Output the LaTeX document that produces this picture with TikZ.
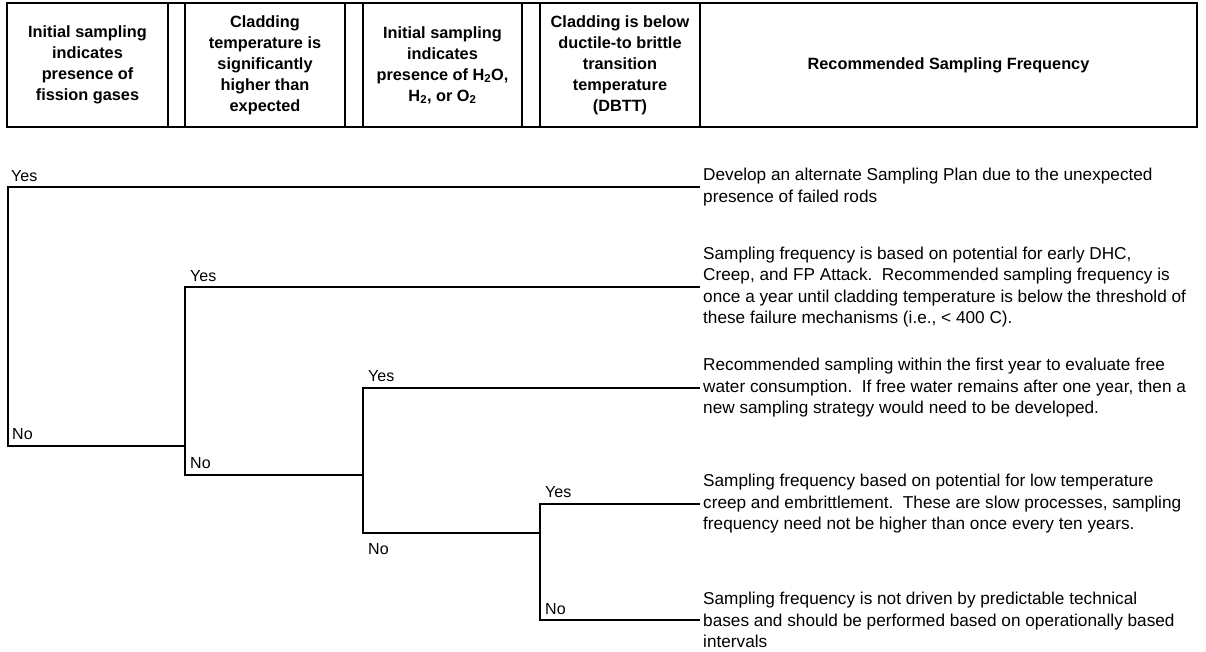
\documentclass[tikz,border=0pt]{standalone}
\usepackage{fontspec}
\setmainfont{Liberation Sans}
\usepackage{tikz}
\usetikzlibrary{positioning}

\tikzset{
  hcell/.style={draw, line width=1.2pt, minimum height=124pt, inner sep=0pt,
    outer sep=0pt, align=center, font=\bfseries\fontsize{16.3}{21}\selectfont},
  leaf/.style={anchor=west, align=left, inner xsep=3pt,
    font=\fontsize{17.2}{21.5}\selectfont},
  answer/.style={inner sep=0pt, font=\fontsize{16}{18}\selectfont},
  branch/.style={line width=1.2pt}
}

\begin{document}
\begin{tikzpicture}[x=1pt, y=-1pt]
    \useasboundingbox (0,0) rectangle (1206,651);

    % header row
    \node[hcell, minimum width=161pt, anchor=north west] (h1) at (7,3)
        {Initial sampling\\indicates\\presence of\\fission gases};
    \node[hcell, minimum width=17pt, right=0pt of h1] (g1) {};
    \node[hcell, minimum width=160pt, right=0pt of g1] (h2)
        {Cladding\\temperature is\\significantly\\higher than\\expected};
    \node[hcell, minimum width=18pt, right=0pt of h2] (g2) {};
    \node[hcell, minimum width=159pt, right=0pt of g2] (h3)
        {Initial sampling\\indicates\\presence of H\textsubscript{2}O,\\H\textsubscript{2}, or O\textsubscript{2}};
    \node[hcell, minimum width=18pt, right=0pt of h3] (g3) {};
    \node[hcell, minimum width=160pt, right=0pt of g3] (h4)
        {Cladding is below\\ductile-to brittle\\transition\\temperature\\(DBTT)};
    \node[hcell, minimum width=497pt, right=0pt of h4] (h5)
        {Recommended Sampling Frequency};

    % outcomes
    \node[leaf] (f1) at (700,187)
        {Develop an alternate Sampling Plan due to the unexpected\\presence of failed rods};
    \node[leaf] (f2) at (700,287)
        {Sampling frequency is based on potential for early DHC,\\Creep, and FP Attack.\ \ Recommended sampling frequency is\\once a year until cladding temperature is below the threshold of\\these failure mechanisms (i.e., < 400 C).};
    \node[leaf] (f3) at (700,388)
        {Recommended sampling within the first year to evaluate free\\water consumption.\ \ If free water remains after one year, then a\\new sampling strategy would need to be developed.};
    \node[leaf] (f4) at (700,504)
        {Sampling frequency based on potential for low temperature\\creep and embrittlement.\ \ These are slow processes, sampling\\frequency need not be higher than once every ten years.};
    \node[leaf] (f5) at (700,620)
        {Sampling frequency is not driven by predictable technical\\bases and should be performed based on operationally based\\intervals};

    % decision tree
    \coordinate (d1) at (8,446);
    \coordinate (d2) at (185,475);
    \coordinate (d3) at (363,533);
    \coordinate (d4) at (540,620);

    \draw[branch] (f1.west) -| (d1) -- (d1 -| d2);
    \draw[branch] (f2.west) -| (d2) -- (d2 -| d3);
    \draw[branch] (f3.west) -| (d3) -- (d3 -| d4);
    \draw[branch] (f4.west) -| (d4) -- (f5.west);

    % yes / no labels
    \node[answer, anchor=south west] (y1) at (11,182) {Yes};
    \node[answer, anchor=south west] (n1) at (12,440) {No};
    \node[answer, anchor=south west] (y2) at (190,282) {Yes};
    \node[answer, anchor=south west] (n2) at (190,469) {No};
    \node[answer, anchor=south west] (y3) at (368,382) {Yes};
    \node[answer, anchor=north west] (n3) at (368,543) {No};
    \node[answer, anchor=south west] (y4) at (545,498) {Yes};
    \node[answer, anchor=south west] (n4) at (545,615) {No};
\end{tikzpicture}
\end{document}
